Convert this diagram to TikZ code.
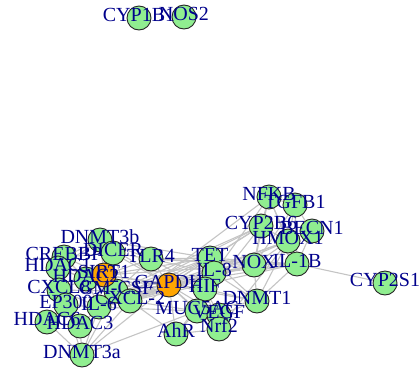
\documentclass[tikz,border=0pt]{standalone}
\usepackage{fontspec}
\setmainfont{Liberation Serif}
\pgfdeclarelayer{bg}
\pgfsetlayers{bg,main}
\definecolor{vgreen}{RGB}{144,238,144}
\definecolor{vorange}{RGB}{255,165,0}
\definecolor{lblue}{RGB}{0,0,139}
\definecolor{egray}{RGB}{196,196,196}
\tikzset{
  vtx/.style={circle,draw=black!85,line width=0.9pt,minimum size=24pt,inner sep=0pt,fill=vgreen},
  hub/.style={vtx,fill=vorange},
  lbl/.style={inner sep=0pt,text=lblue,font=\fontsize{20}{22}\selectfont,text height=0.66em,text depth=0pt,anchor=center},
  edge/.style={draw=egray,line width=1.1pt}
}
\begin{document}
\begin{tikzpicture}[x=1pt,y=-1pt]
\useasboundingbox (0,0) rectangle (420,370);
% vertices
\foreach \n/\x/\y in {cypA/139/18, nos2/184/17,
  nfkb/269/197, tgfb/295/205, cyptb/261/226, becn/312/231, hmox/288/241, ilb/297/264, cypts/385/283,
  nox/254/265, tet/210/258, ileight/214/273, dnmtone/257/301, hif/205/289, muc/197/311, vegf/219/315,
  ahr/176/334, nrf/219/329,
  dtb/100/240, crebbp/64/257, dicer/113/253, tlr/151/259, hdaca/58/268, hdacb/86/279,
  cxcl/59/290, gmcsf/116/291, ep/66/305, ilsix/99/307, cxcltwo/130/301, hdacf/47/322, hdacc/80/326, dta/82/355}
  \node[vtx] (\n) at (\x,\y) {};
\node[hub] (gapdh) at (169,285) {};
\node[hub] (sirt) at (104,275) {};
% edges
\begin{pgfonlayer}{bg}
\foreach \a/\b in {ilb/cypts,
  dtb/crebbp, dtb/dicer, dtb/hdaca, dtb/sirt, dtb/tlr, dtb/tet, dtb/gapdh,
  crebbp/hdaca, crebbp/ep, crebbp/sirt, crebbp/hdacb, crebbp/dicer, crebbp/cxcl,
  hdaca/hdacb, hdaca/sirt, hdaca/cxcl, hdaca/ep, hdaca/gmcsf,
  hdacb/sirt, hdacb/ilsix, hdacb/gapdh, hdacb/cxcl,
  sirt/gmcsf, sirt/ilsix, sirt/tlr, sirt/tet, sirt/hif, sirt/nox, sirt/gapdh, sirt/dicer, sirt/cxcltwo,
  cxcl/ilsix, cxcl/gmcsf, cxcl/ep, cxcl/hdacc,
  ep/hdacc, ep/hdacf, ep/ilsix, hdacc/hdacf, hdacc/dta, hdacf/dta, hdacc/ilsix,
  dta/ilsix, dta/cxcltwo, dta/gapdh, dta/ep, dta/muc, dta/gmcsf,
  ilsix/cxcltwo, gmcsf/cxcltwo, gmcsf/ilsix,
  tlr/gapdh, tlr/tet, tlr/ileight, tlr/nox, tlr/dicer, tlr/ilb, tlr/hif, tlr/gmcsf,
  dicer/gapdh, dicer/cxcltwo,
  gapdh/tet, gapdh/ileight, gapdh/hif, gapdh/muc, gapdh/nox, gapdh/dnmtone, gapdh/ahr, gapdh/nrf, gapdh/vegf, gapdh/ilb, gapdh/cyptb, gapdh/hmox,
  ilsix/gapdh, ilsix/tet, ilsix/nox, ilsix/hmox, ilsix/cyptb, ilsix/ileight, ilsix/muc,
  cxcltwo/tet, cxcltwo/ileight, cxcltwo/nox, cxcltwo/gapdh, cxcltwo/nfkb, cxcltwo/ilb, cxcltwo/muc, cxcltwo/ahr,
  gmcsf/tet, gmcsf/ileight, gmcsf/gapdh, gmcsf/cyptb,
  tet/nox, tet/ileight, tet/dnmtone, tet/hif, tet/ilb, tet/cyptb,
  ileight/nox, ileight/ilb, ileight/hmox, ileight/dnmtone, ileight/nfkb,
  nox/hmox, nox/ilb, nox/cyptb, nox/nfkb, nox/dnmtone, nox/tgfb,
  dnmtone/ilb, dnmtone/hif, dnmtone/muc, dnmtone/hmox, dnmtone/vegf,
  hif/vegf, hif/ileight, hif/muc, hif/nrf,
  muc/vegf, muc/ahr, muc/nrf, ahr/nrf, nrf/vegf, nrf/hmox, ahr/cyptb,
  hmox/nfkb, hmox/tgfb, hmox/becn, hmox/ilb, hmox/cyptb,
  nfkb/tgfb, nfkb/cyptb, tgfb/becn, becn/ilb, tgfb/ilb, nfkb/ilb, cyptb/ilb}
  \draw[edge] (\a) -- (\b);
\end{pgfonlayer}
% labels
\foreach \n/\t in {cypA/CYP1B1, nos2/NOS2,
  nfkb/NFKB, tgfb/TGFB1, cyptb/CYP2B6, becn/BECN1, hmox/HMOX1, ilb/IL-1B, cypts/CYP2S1,
  nox/NOX, tet/TET, ileight/IL-8, dnmtone/DNMT1, gapdh/GAPDH, hif/HIF, muc/MUC5AC, vegf/VEGF,
  ahr/AhR, nrf/Nrf2,
  dtb/DNMT3b, crebbp/CREBBP, dicer/DICER, tlr/TLR4, hdaca/HDAC1, hdacb/HDAC2, sirt/SIRT1,
  cxcl/CXCL8, gmcsf/GM-CSF, ep/EP300, ilsix/IL-6, cxcltwo/CXCL-2, hdacf/HDAC6, hdacc/HDAC3, dta/DNMT3a}
  \node[lbl] (l\n) at (\n.center) {\t};
\end{tikzpicture}
\end{document}
